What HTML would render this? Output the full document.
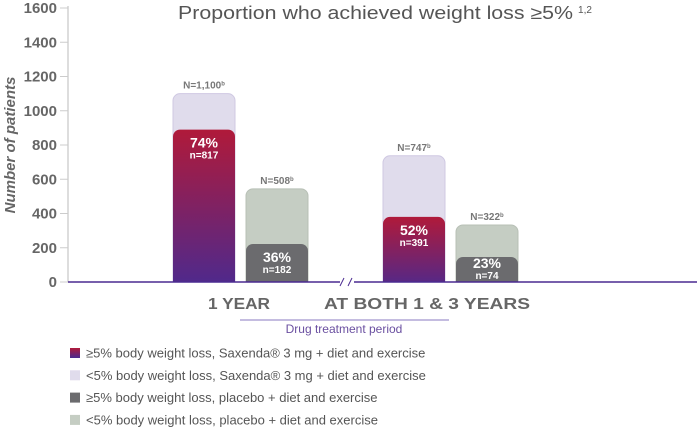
<!DOCTYPE html>
<html><head><meta charset="utf-8"><style>
body{margin:0;background:#fff;font-family:"Liberation Sans",sans-serif}
</style></head><body>
<svg id="c" width="697" height="429" viewBox="0 0 697 429">
<defs><linearGradient id="g" x1="0" y1="0" x2="0" y2="1"><stop offset="0" stop-color="#b01a3a"/><stop offset="1" stop-color="#4a2a90"/></linearGradient>
<clipPath id="clip"><rect x="0" y="0" width="697" height="282"/></clipPath></defs>
<text x="385" y="19" text-anchor="middle" font-size="18" fill="#555"><tspan textLength="395" lengthAdjust="spacingAndGlyphs">Proportion who achieved weight loss ≥5%</tspan> <tspan font-size="10" dy="-6">1,2</tspan></text>
<g id="yaxis"></g><g id="bars" clip-path="url(#clip)"></g><g id="axis"></g>
<text transform="translate(15,145) rotate(-90)" text-anchor="middle" font-size="15" font-style="italic" font-weight="bold" fill="#666">Number of patients</text>
<text x="239" y="309" text-anchor="middle" font-size="16" font-weight="bold" fill="#666" textLength="62" lengthAdjust="spacingAndGlyphs">1 YEAR</text>
<text x="427" y="309" text-anchor="middle" font-size="16" font-weight="bold" fill="#666" textLength="206" lengthAdjust="spacingAndGlyphs">AT BOTH 1 &amp; 3 YEARS</text>
<line x1="240" y1="320" x2="449" y2="320" stroke="#8878c0" stroke-width="1"/>
<text x="344" y="333" text-anchor="middle" font-size="12" fill="#6a4fa0">Drug treatment period</text>
<g id="legend"></g>
</svg>
<script>
const ticks=[0,200,400,600,800,1000,1200,1400,1600];
const totals=[1100,544,737,333];
const responders=[890,222,380,146];
const nLabels=["N=1,100","N=508","N=747","N=322"];
const pctLabels=["74%","36%","52%","23%"];
const nSub=["n=817","n=182","n=391","n=74"];
const legendLabels=["≥5% body weight loss, Saxenda® 3 mg + diet and exercise","<5% body weight loss, Saxenda® 3 mg + diet and exercise","≥5% body weight loss, placebo + diet and exercise","<5% body weight loss, placebo + diet and exercise"];
const NS="http://www.w3.org/2000/svg";
const y=v=>282-v*(274/1600);
const barX=[173,246,383,456], bw=62;
function mk(t,a,p){const e=document.createElementNS(NS,t);for(const k in a)e.setAttribute(k,a[k]);p.appendChild(e);return e;}
const ya=document.getElementById('yaxis');
mk('line',{x1:68,y1:6,x2:68,y2:282,stroke:'#ddd','stroke-width':2},ya);
ticks.forEach(t=>{
 const l=mk('line',{x1:60,x2:68,y1:y(t),y2:y(t),stroke:'#ccc'},ya);
 
 
 const tx=mk('text',{x:57,y:y(t)+5,'text-anchor':'end','font-size':15,'font-weight':'bold',fill:'#666'},ya);
 tx.textContent=t;
 
 
});
const bg=document.getElementById('bars');
const ax=document.getElementById('axis');
const backC=['#e0dcec','#c5cdc3','#e0dcec','#c5cdc3'], frontC=['url(#g)','#6b6b6e','url(#g)','#6b6b6e'];
totals.forEach((v,i)=>{
 const x=barX[i];
 const r=mk('rect',{x:x,y:y(v),width:bw,height:282-y(v)+10,rx:7,fill:backC[i],stroke:i%2?'#b8c0b6':'#cfc8e2'},bg);
 
 
 const f=mk('rect',{x:x,y:y(responders[i]),width:bw,height:282-y(responders[i])+10,rx:7,fill:frontC[i]},bg);
 
 
 const n=mk('text',{x:x+bw/2,y:y(v)-5,'text-anchor':'middle','font-size':10,'font-weight':'bold',fill:'#777'},ax);
 n.innerHTML=nLabels[i]+'<tspan font-size="6" dy="-3">b</tspan>';
 
 
 const py=Math.min(y(responders[i])+18,268), sy=Math.min(y(responders[i])+29,279);
 const p=mk('text',{x:x+bw/2,y:py,'text-anchor':'middle','font-size':14,'font-weight':'bold',fill:'#fff'},ax);
 p.textContent=pctLabels[i];
 
 
 const s=mk('text',{x:x+bw/2,y:sy,'text-anchor':'middle','font-size':10,'font-weight':'bold',fill:'#fff'},ax);
 s.textContent=nSub[i];
 
 
});
mk('line',{x1:68,y1:282,x2:697,y2:282,stroke:'#4a2a90','stroke-width':1.5},ax);
mk('rect',{x:340,y:276,width:14,height:12,fill:'#fff'},ax);
mk('line',{x1:340,y1:286,x2:344,y2:278,stroke:'#4a2a90'},ax);
mk('line',{x1:348,y1:286,x2:352,y2:278,stroke:'#4a2a90'},ax);
const lg=document.getElementById('legend');
const legC=['url(#g)','#e0dcec','#6b6b6e','#c5cdc3'];
legendLabels.forEach((t,i)=>{
 const cy=353+i*22.3;
 const r=mk('rect',{x:70,y:cy-5,width:10,height:10,fill:legC[i]},lg);
 
 
 const tx=mk('text',{x:86,y:cy+4.5,'font-size':13,fill:'#555'},lg);
 tx.textContent=t;
 
 
});
</script>
</body></html>
